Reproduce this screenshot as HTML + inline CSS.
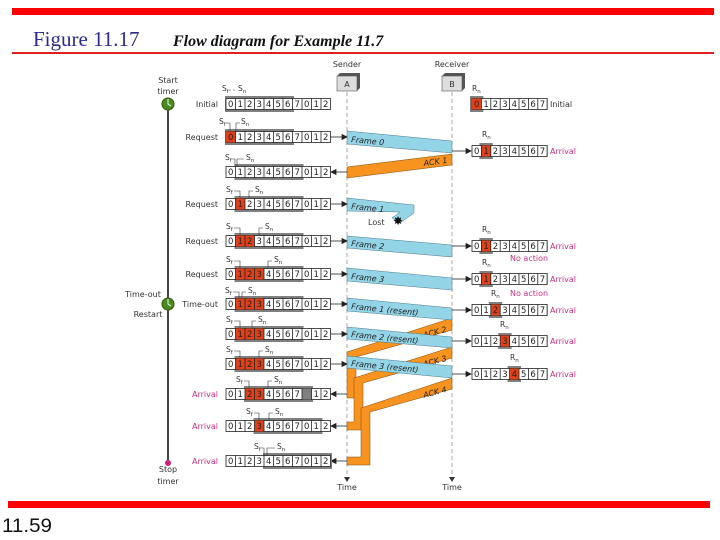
<!DOCTYPE html>
<html><head><meta charset="utf-8"><style>
html,body{margin:0;padding:0;background:#fff;}
svg{display:block;}
.n{font-family:"DejaVu Sans",sans-serif;font-size:8.5px;text-anchor:middle;fill:#222;}
.l{font-family:"DejaVu Sans",sans-serif;font-size:8px;fill:#333;}
.p{font-family:"DejaVu Sans",sans-serif;font-size:8px;fill:#c4307f;}
.f{font-family:"DejaVu Sans",sans-serif;font-size:8px;fill:#222;font-style:italic;}
.s{font-family:"DejaVu Sans",sans-serif;font-size:7.5px;fill:#333;}
</style></head><body>
<svg width="720" height="540" viewBox="0 0 720 540" xmlns="http://www.w3.org/2000/svg">
<rect x="12" y="8" width="702" height="7" fill="#f00"/>
<rect x="12" y="52" width="702" height="2" fill="#e02020"/>
<rect x="8" y="501" width="702" height="7" fill="#f00"/>
<text x="33" y="46" font-family="Liberation Serif" font-size="21" fill="#2b2b8c">Figure 11.17</text>
<text x="173" y="46" font-family="Liberation Serif" font-size="16" font-weight="bold" font-style="italic" fill="#111">Flow diagram for Example 11.7</text>
<text x="2" y="532" font-family="Liberation Sans" font-size="19" fill="#111" textLength="50" lengthAdjust="spacingAndGlyphs">11.59</text>

<!-- timer line -->
<line x1="168" y1="104" x2="168" y2="463" stroke="#444" stroke-width="2"/>
<circle cx="168" cy="104" r="6" fill="#4a8a1e" stroke="#2d5a10"/>
<path d="M168 99 V104 L171 106" stroke="#fff" fill="none" stroke-width="1"/>
<circle cx="168" cy="304" r="6" fill="#4a8a1e" stroke="#2d5a10"/>
<path d="M168 299 V304 L171 306" stroke="#fff" fill="none" stroke-width="1"/>
<circle cx="168" cy="463" r="3" fill="#d0207a"/>
<text class="l" x="168" y="83" text-anchor="middle">Start</text>
<text class="l" x="168" y="94" text-anchor="middle">timer</text>
<text class="l" x="143" y="297" text-anchor="middle">Time-out</text>
<text class="l" x="148" y="317" text-anchor="middle">Restart</text>
<text class="l" x="168" y="472" text-anchor="middle">Stop</text>
<text class="l" x="168" y="484" text-anchor="middle">timer</text>

<!-- sender/receiver -->
<text class="l" x="347" y="67" text-anchor="middle">Sender</text>
<text class="l" x="452" y="67" text-anchor="middle">Receiver</text>
<path d="M337 76 l3 -3 h20 v15 l-3 3 z" fill="#555"/>
<rect x="337" y="76" width="20" height="15" fill="#ddd" stroke="#555" stroke-width=".6"/>
<text class="l" x="347" y="87" text-anchor="middle">A</text>
<path d="M442 76 l3 -3 h20 v15 l-3 3 z" fill="#555"/>
<rect x="442" y="76" width="20" height="15" fill="#ddd" stroke="#555" stroke-width=".6"/>
<text class="l" x="452" y="87" text-anchor="middle">B</text>
<line x1="347" y1="92" x2="347" y2="478" stroke="#aaa" stroke-dasharray="4 3"/>
<line x1="452" y1="92" x2="452" y2="478" stroke="#aaa" stroke-dasharray="4 3"/>
<path d="M344 477 l3 5 l3 -5z M449 477 l3 5 l3 -5z" fill="#333"/>
<text class="l" x="347" y="490" text-anchor="middle">Time</text>
<text class="l" x="452" y="490" text-anchor="middle">Time</text>

<!-- ACK bands -->
<g fill="#f7931e" stroke="#7a4a10" stroke-width=".5">
<polygon points="452,154 452,165 347,178 347,167"/>
<polygon points="452,318 452,330 356,357 356,398 347,398 347,352"/>
<polygon points="452,347 452,358 363,383 363,430 347,430 347,422 354,422 354,378"/>
<polygon points="452,378 452,389 370,412 370,465 347,465 347,457 361,457 361,408"/>
</g>
<text class="f" transform="translate(424,166) rotate(-8)">ACK 1</text>
<text class="f" transform="translate(424,338) rotate(-15)">ACK 2</text>
<text class="f" transform="translate(424,367) rotate(-15)">ACK 3</text>
<text class="f" transform="translate(424,398) rotate(-15)">ACK 4</text>

<!-- frame bands -->
<g fill="#93d4e6" stroke="#4a7a88" stroke-width=".5">
<polygon points="347,131 452,141 452,153 347,144"/>
<polygon points="347,198 414,205 414,213 400,223 392,218 400,212 347,211"/>
<polygon points="347,236 452,245 452,257 347,248"/>
<polygon points="347,268 452,278 452,290 347,281"/>
<polygon points="347,298 452,308 452,320 347,311"/>
<polygon points="347,327 452,337 452,348 347,339"/>
<polygon points="347,356 452,366 452,378 347,368"/>
</g>
<text class="f" transform="translate(351,142) rotate(5.5)">Frame 0</text>
<text class="f" transform="translate(351,209) rotate(5.5)">Frame 1</text>
<text class="f" transform="translate(351,246) rotate(5.5)">Frame 2</text>
<text class="f" transform="translate(351,279) rotate(5.5)">Frame 3</text>
<text class="f" transform="translate(351,309) rotate(5.5)">Frame 1 (resent)</text>
<text class="f" transform="translate(351,337) rotate(5.5)">Frame 2 (resent)</text>
<text class="f" transform="translate(351,366) rotate(5.5)">Frame 3 (resent)</text>
<text class="l" x="368" y="225">Lost</text>
<text x="398" y="225" font-size="12" text-anchor="middle" fill="#111">✸</text>

<!-- sender arrows -->
<g stroke="#222" stroke-width=".8" fill="#222">
<line x1="330" y1="137" x2="345" y2="137"/><path d="M347 137 l-5 -2.5 v5z"/>
<line x1="330" y1="204" x2="345" y2="204"/><path d="M347 204 l-5 -2.5 v5z"/>
<line x1="330" y1="241" x2="345" y2="241"/><path d="M347 241 l-5 -2.5 v5z"/>
<line x1="330" y1="274" x2="345" y2="274"/><path d="M347 274 l-5 -2.5 v5z"/>
<line x1="330" y1="304" x2="345" y2="304"/><path d="M347 304 l-5 -2.5 v5z"/>
<line x1="330" y1="334" x2="345" y2="334"/><path d="M347 334 l-5 -2.5 v5z"/>
<line x1="330" y1="364" x2="345" y2="364"/><path d="M347 364 l-5 -2.5 v5z"/>
<line x1="332" y1="172" x2="347" y2="172"/><path d="M331 172 l5 -2.5 v5z"/>
<line x1="332" y1="394" x2="347" y2="394"/><path d="M331 394 l5 -2.5 v5z"/>
<line x1="332" y1="426" x2="347" y2="426"/><path d="M331 426 l5 -2.5 v5z"/>
<line x1="332" y1="461" x2="347" y2="461"/><path d="M331 461 l5 -2.5 v5z"/>
<line x1="452" y1="151" x2="468" y2="151"/><path d="M471 151 l-5 -2.5 v5z"/>
<line x1="452" y1="246" x2="468" y2="246"/><path d="M471 246 l-5 -2.5 v5z"/>
<line x1="452" y1="279" x2="468" y2="279"/><path d="M471 279 l-5 -2.5 v5z"/>
<line x1="452" y1="310" x2="468" y2="310"/><path d="M471 310 l-5 -2.5 v5z"/>
<line x1="452" y1="341" x2="468" y2="341"/><path d="M471 341 l-5 -2.5 v5z"/>
<line x1="452" y1="374" x2="468" y2="374"/><path d="M471 374 l-5 -2.5 v5z"/>
</g>

<!-- sender rows -->
<g transform="translate(0,104)">
<rect x="225" y="-8" width="69" height="16" fill="#808080"/>
<rect x="226" y="-5.5" width="104.5" height="11" fill="#fff" stroke="#222" stroke-width=".8"/>
<line x1="235.1" y1="0" x2="330" y2="0" stroke="#222" stroke-width="11" stroke-dasharray=".8 8.7"/>
<text class="n" x="230.75 240.25 249.75 259.25 268.75 278.25 287.75 297.25 306.75 316.25 325.75" y="3.2">01234567012</text>
<text class="l" x="218" y="3" text-anchor="end">Initial</text>
<text class="s" x="222" y="-13">S<tspan font-size="5.5" dy="2">f</tspan></text>
<text class="s" x="238" y="-13">S<tspan font-size="5.5" dy="2">n</tspan></text>
<path d="M229 -14 h7" stroke="#333" stroke-width=".6" stroke-dasharray="2 2"/>
</g>
<g transform="translate(0,137)">
<rect x="225" y="-8" width="69" height="16" fill="#808080"/>
<rect x="226" y="-5.5" width="104.5" height="11" fill="#fff" stroke="#222" stroke-width=".8"/>
<rect x="226" y="-5.5" width="9.5" height="11" fill="#e0401a"/>
<line x1="235.1" y1="0" x2="330" y2="0" stroke="#222" stroke-width="11" stroke-dasharray=".8 8.7"/>
<text class="n" x="230.75 240.25 249.75 259.25 268.75 278.25 287.75 297.25 306.75 316.25 325.75" y="3.2">01234567012</text>
<text class="l" x="218" y="3" text-anchor="end">Request</text>
<text class="s" x="219" y="-13">S<tspan font-size="5.5" dy="2">f</tspan></text>
<text class="s" x="241" y="-13">S<tspan font-size="5.5" dy="2">n</tspan></text>
<path d="M226 -14 h4 v8.5 M240 -14 h-4 v8.5" stroke="#333" stroke-width=".6" fill="none"/>
</g>
<g transform="translate(0,172)">
<rect x="234.5" y="-8" width="69" height="16" fill="#808080"/>
<rect x="226" y="-5.5" width="104.5" height="11" fill="#fff" stroke="#222" stroke-width=".8"/>
<line x1="235.1" y1="0" x2="330" y2="0" stroke="#222" stroke-width="11" stroke-dasharray=".8 8.7"/>
<text class="n" x="230.75 240.25 249.75 259.25 268.75 278.25 287.75 297.25 306.75 316.25 325.75" y="3.2">01234567012</text>
<text class="s" x="225" y="-12">S<tspan font-size="5.5" dy="2">f</tspan></text>
<text class="s" x="246" y="-12">S<tspan font-size="5.5" dy="2">n</tspan></text>
<path d="M232 -13 h3 v7.5 M244 -13 h-7 v7.5" stroke="#333" stroke-width=".6" fill="none"/>
</g>
<g transform="translate(0,204)">
<rect x="234.5" y="-8" width="69" height="16" fill="#808080"/>
<rect x="226" y="-5.5" width="104.5" height="11" fill="#fff" stroke="#222" stroke-width=".8"/>
<rect x="235.5" y="-5.5" width="9.5" height="11" fill="#e0401a"/>
<line x1="235.1" y1="0" x2="330" y2="0" stroke="#222" stroke-width="11" stroke-dasharray=".8 8.7"/>
<text class="n" x="230.75 240.25 249.75 259.25 268.75 278.25 287.75 297.25 306.75 316.25 325.75" y="3.2">01234567012</text>
<text class="l" x="218" y="3" text-anchor="end">Request</text>
<text class="s" x="226" y="-12">S<tspan font-size="5.5" dy="2">f</tspan></text>
<text class="s" x="255" y="-12">S<tspan font-size="5.5" dy="2">n</tspan></text>
<path d="M234 -13 h6 v7.5 M253 -13 h-4 v7.5" stroke="#333" stroke-width=".6" fill="none"/>
</g>
<g transform="translate(0,241)">
<rect x="234.5" y="-8" width="69" height="16" fill="#808080"/>
<rect x="226" y="-5.5" width="104.5" height="11" fill="#fff" stroke="#222" stroke-width=".8"/>
<rect x="235.5" y="-5.5" width="19" height="11" fill="#e0401a"/>
<line x1="235.1" y1="0" x2="330" y2="0" stroke="#222" stroke-width="11" stroke-dasharray=".8 8.7"/>
<text class="n" x="230.75 240.25 249.75 259.25 268.75 278.25 287.75 297.25 306.75 316.25 325.75" y="3.2">01234567012</text>
<text class="l" x="218" y="3" text-anchor="end">Request</text>
<text class="s" x="226" y="-12">S<tspan font-size="5.5" dy="2">f</tspan></text>
<text class="s" x="265" y="-12">S<tspan font-size="5.5" dy="2">n</tspan></text>
<path d="M234 -13 h6 v7.5 M263 -13 h-4 v7.5" stroke="#333" stroke-width=".6" fill="none"/>
</g>
<g transform="translate(0,274)">
<rect x="234.5" y="-8" width="69" height="16" fill="#808080"/>
<rect x="226" y="-5.5" width="104.5" height="11" fill="#fff" stroke="#222" stroke-width=".8"/>
<rect x="235.5" y="-5.5" width="28.5" height="11" fill="#e0401a"/>
<line x1="235.1" y1="0" x2="330" y2="0" stroke="#222" stroke-width="11" stroke-dasharray=".8 8.7"/>
<text class="n" x="230.75 240.25 249.75 259.25 268.75 278.25 287.75 297.25 306.75 316.25 325.75" y="3.2">01234567012</text>
<text class="l" x="218" y="3" text-anchor="end">Request</text>
<text class="s" x="226" y="-12">S<tspan font-size="5.5" dy="2">f</tspan></text>
<text class="s" x="274" y="-12">S<tspan font-size="5.5" dy="2">n</tspan></text>
<path d="M234 -13 h6 v7.5 M272 -13 h-4 v7.5" stroke="#333" stroke-width=".6" fill="none"/>
</g>
<g transform="translate(0,304)">
<rect x="234.5" y="-8" width="69" height="16" fill="#808080"/>
<rect x="226" y="-5.5" width="104.5" height="11" fill="#fff" stroke="#222" stroke-width=".8"/>
<rect x="235.5" y="-5.5" width="28.5" height="11" fill="#e0401a"/>
<line x1="235.1" y1="0" x2="330" y2="0" stroke="#222" stroke-width="11" stroke-dasharray=".8 8.7"/>
<text class="n" x="230.75 240.25 249.75 259.25 268.75 278.25 287.75 297.25 306.75 316.25 325.75" y="3.2">01234567012</text>
<text class="l" x="218" y="3" text-anchor="end">Time-out</text>
<text class="s" x="225" y="-11">S<tspan font-size="5.5" dy="2">f</tspan></text>
<text class="s" x="248" y="-11">S<tspan font-size="5.5" dy="2">n</tspan></text>
<path d="M233 -12 h6 v6.5 M246 -12 h-4 v6.5" stroke="#333" stroke-width=".6" fill="none"/>
</g>
<g transform="translate(0,334)">
<rect x="234.5" y="-8" width="69" height="16" fill="#808080"/>
<rect x="226" y="-5.5" width="104.5" height="11" fill="#fff" stroke="#222" stroke-width=".8"/>
<rect x="235.5" y="-5.5" width="28.5" height="11" fill="#e0401a"/>
<line x1="235.1" y1="0" x2="330" y2="0" stroke="#222" stroke-width="11" stroke-dasharray=".8 8.7"/>
<text class="n" x="230.75 240.25 249.75 259.25 268.75 278.25 287.75 297.25 306.75 316.25 325.75" y="3.2">01234567012</text>
<text class="s" x="226" y="-12">S<tspan font-size="5.5" dy="2">f</tspan></text>
<text class="s" x="258" y="-12">S<tspan font-size="5.5" dy="2">n</tspan></text>
<path d="M234 -13 h6 v7.5 M256 -13 h-4 v7.5" stroke="#333" stroke-width=".6" fill="none"/>
</g>
<g transform="translate(0,364)">
<rect x="234.5" y="-8" width="69" height="16" fill="#808080"/>
<rect x="226" y="-5.5" width="104.5" height="11" fill="#fff" stroke="#222" stroke-width=".8"/>
<rect x="235.5" y="-5.5" width="28.5" height="11" fill="#e0401a"/>
<line x1="235.1" y1="0" x2="330" y2="0" stroke="#222" stroke-width="11" stroke-dasharray=".8 8.7"/>
<text class="n" x="230.75 240.25 249.75 259.25 268.75 278.25 287.75 297.25 306.75 316.25 325.75" y="3.2">01234567012</text>
<text class="s" x="226" y="-12">S<tspan font-size="5.5" dy="2">f</tspan></text>
<text class="s" x="265" y="-12">S<tspan font-size="5.5" dy="2">n</tspan></text>
<path d="M234 -13 h6 v7.5 M263 -13 h-4 v7.5" stroke="#333" stroke-width=".6" fill="none"/>
</g>
<g transform="translate(0,394)">
<rect x="244" y="-8" width="69" height="16" fill="#808080"/>
<rect x="226" y="-5.5" width="104.5" height="11" fill="#fff" stroke="#222" stroke-width=".8"/>
<rect x="245" y="-5.5" width="19" height="11" fill="#e0401a"/>
<rect x="302" y="-5.5" width="9.5" height="11" fill="#808080"/>
<line x1="235.1" y1="0" x2="330" y2="0" stroke="#222" stroke-width="11" stroke-dasharray=".8 8.7"/>
<text class="n" x="230.75 240.25 249.75 259.25 268.75 278.25 287.75 297.25 316.25 325.75" y="3.2">0123456712</text>
<text class="p" x="218" y="3" text-anchor="end">Arrival</text>
<text class="s" x="236" y="-12">S<tspan font-size="5.5" dy="2">f</tspan></text>
<text class="s" x="274" y="-12">S<tspan font-size="5.5" dy="2">n</tspan></text>
<path d="M244 -13 h5 v7.5 M272 -13 h-4 v7.5" stroke="#333" stroke-width=".6" fill="none"/>
</g>
<g transform="translate(0,426)">
<rect x="253.5" y="-8" width="69" height="16" fill="#808080"/>
<rect x="226" y="-5.5" width="104.5" height="11" fill="#fff" stroke="#222" stroke-width=".8"/>
<rect x="254.5" y="-5.5" width="9.5" height="11" fill="#e0401a"/>
<line x1="235.1" y1="0" x2="330" y2="0" stroke="#222" stroke-width="11" stroke-dasharray=".8 8.7"/>
<text class="n" x="230.75 240.25 249.75 259.25 268.75 278.25 287.75 297.25 306.75 316.25 325.75" y="3.2">01234567012</text>
<text class="p" x="218" y="3" text-anchor="end">Arrival</text>
<text class="s" x="246" y="-12">S<tspan font-size="5.5" dy="2">f</tspan></text>
<text class="s" x="275" y="-12">S<tspan font-size="5.5" dy="2">n</tspan></text>
<path d="M254 -13 h5 v7.5 M273 -13 h-4 v7.5" stroke="#333" stroke-width=".6" fill="none"/>
</g>
<g transform="translate(0,461)">
<rect x="263" y="-8" width="69" height="16" fill="#808080"/>
<rect x="226" y="-5.5" width="104.5" height="11" fill="#fff" stroke="#222" stroke-width=".8"/>
<line x1="235.1" y1="0" x2="330" y2="0" stroke="#222" stroke-width="11" stroke-dasharray=".8 8.7"/>
<text class="n" x="230.75 240.25 249.75 259.25 268.75 278.25 287.75 297.25 306.75 316.25 325.75" y="3.2">01234567012</text>
<text class="p" x="218" y="3" text-anchor="end">Arrival</text>
<text class="s" x="254" y="-12">S<tspan font-size="5.5" dy="2">f</tspan></text>
<text class="s" x="277" y="-12">S<tspan font-size="5.5" dy="2">n</tspan></text>
<path d="M261 -13 h3 v7.5 M275 -13 h-8 v7.5" stroke="#333" stroke-width=".6" fill="none"/>
</g>

<!-- receiver rows -->
<g transform="translate(0,104)">
<rect x="470" y="-8" width="13.4" height="16" fill="#808080"/>
<rect x="472" y="-5.5" width="75.2" height="11" fill="#fff" stroke="#222" stroke-width=".8"/>
<rect x="472" y="-5.5" width="9.4" height="11" fill="#e0401a"/>
<line x1="481" y1="0" x2="547" y2="0" stroke="#222" stroke-width="11" stroke-dasharray=".8 8.6"/>
<text class="n" x="476.7 486.1 495.5 504.9 514.3 523.7 533.1 542.5" y="3.2">01234567</text>
<text class="l" x="550" y="3">Initial</text>
<text class="s" x="472" y="-13">R<tspan font-size="5.5" dy="2">n</tspan></text>
</g>
<g transform="translate(0,151)">
<rect x="479.4" y="-8" width="13.4" height="16" fill="#808080"/>
<rect x="472" y="-5.5" width="75.2" height="11" fill="#fff" stroke="#222" stroke-width=".8"/>
<rect x="481.4" y="-5.5" width="9.4" height="11" fill="#e0401a"/>
<line x1="481" y1="0" x2="547" y2="0" stroke="#222" stroke-width="11" stroke-dasharray=".8 8.6"/>
<text class="n" x="476.7 486.1 495.5 504.9 514.3 523.7 533.1 542.5" y="3.2">01234567</text>
<text class="p" x="550" y="3">Arrival</text>
<text class="s" x="482" y="-14">R<tspan font-size="5.5" dy="2">n</tspan></text>
</g>
<g transform="translate(0,246)">
<rect x="479.4" y="-8" width="13.4" height="16" fill="#808080"/>
<rect x="472" y="-5.5" width="75.2" height="11" fill="#fff" stroke="#222" stroke-width=".8"/>
<rect x="481.4" y="-5.5" width="9.4" height="11" fill="#e0401a"/>
<line x1="481" y1="0" x2="547" y2="0" stroke="#222" stroke-width="11" stroke-dasharray=".8 8.6"/>
<text class="n" x="476.7 486.1 495.5 504.9 514.3 523.7 533.1 542.5" y="3.2">01234567</text>
<text class="p" x="550" y="3">Arrival</text>
<text class="s" x="482" y="-14">R<tspan font-size="5.5" dy="2">n</tspan></text>
<text class="p" x="510" y="15">No action</text>
</g>
<g transform="translate(0,279)">
<rect x="479.4" y="-8" width="13.4" height="16" fill="#808080"/>
<rect x="472" y="-5.5" width="75.2" height="11" fill="#fff" stroke="#222" stroke-width=".8"/>
<rect x="481.4" y="-5.5" width="9.4" height="11" fill="#e0401a"/>
<line x1="481" y1="0" x2="547" y2="0" stroke="#222" stroke-width="11" stroke-dasharray=".8 8.6"/>
<text class="n" x="476.7 486.1 495.5 504.9 514.3 523.7 533.1 542.5" y="3.2">01234567</text>
<text class="p" x="550" y="3">Arrival</text>
<text class="s" x="482" y="-14">R<tspan font-size="5.5" dy="2">n</tspan></text>
<text class="p" x="510" y="17">No action</text>
</g>
<g transform="translate(0,310)">
<rect x="488.8" y="-8" width="13.4" height="16" fill="#808080"/>
<rect x="472" y="-5.5" width="75.2" height="11" fill="#fff" stroke="#222" stroke-width=".8"/>
<rect x="490.8" y="-5.5" width="9.4" height="11" fill="#e0401a"/>
<line x1="481" y1="0" x2="547" y2="0" stroke="#222" stroke-width="11" stroke-dasharray=".8 8.6"/>
<text class="n" x="476.7 486.1 495.5 504.9 514.3 523.7 533.1 542.5" y="3.2">01234567</text>
<text class="p" x="550" y="3">Arrival</text>
<text class="s" x="491" y="-14">R<tspan font-size="5.5" dy="2">n</tspan></text>
</g>
<g transform="translate(0,341)">
<rect x="498.2" y="-8" width="13.4" height="16" fill="#808080"/>
<rect x="472" y="-5.5" width="75.2" height="11" fill="#fff" stroke="#222" stroke-width=".8"/>
<rect x="500.2" y="-5.5" width="9.4" height="11" fill="#e0401a"/>
<line x1="481" y1="0" x2="547" y2="0" stroke="#222" stroke-width="11" stroke-dasharray=".8 8.6"/>
<text class="n" x="476.7 486.1 495.5 504.9 514.3 523.7 533.1 542.5" y="3.2">01234567</text>
<text class="p" x="550" y="3">Arrival</text>
<text class="s" x="500" y="-14">R<tspan font-size="5.5" dy="2">n</tspan></text>
</g>
<g transform="translate(0,374)">
<rect x="507.6" y="-8" width="13.4" height="16" fill="#808080"/>
<rect x="472" y="-5.5" width="75.2" height="11" fill="#fff" stroke="#222" stroke-width=".8"/>
<rect x="509.6" y="-5.5" width="9.4" height="11" fill="#e0401a"/>
<line x1="481" y1="0" x2="547" y2="0" stroke="#222" stroke-width="11" stroke-dasharray=".8 8.6"/>
<text class="n" x="476.7 486.1 495.5 504.9 514.3 523.7 533.1 542.5" y="3.2">01234567</text>
<text class="p" x="550" y="3">Arrival</text>
<text class="s" x="510" y="-14">R<tspan font-size="5.5" dy="2">n</tspan></text>
</g>
</svg>
</body></html>
